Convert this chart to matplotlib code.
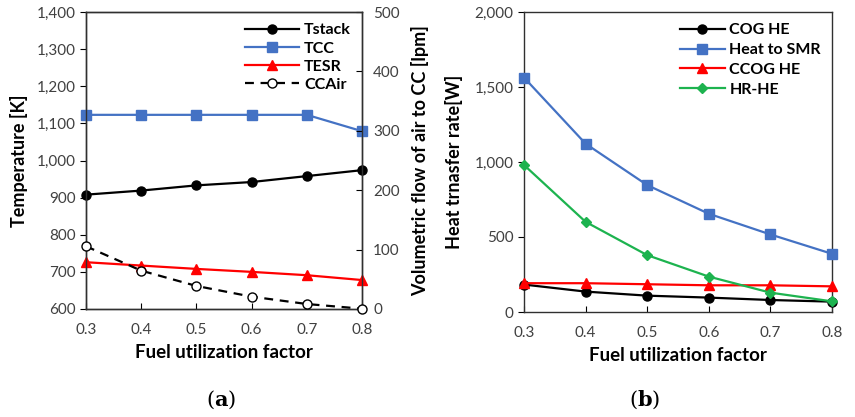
import numpy as np
import matplotlib
matplotlib.use("Agg")
import matplotlib.pyplot as plt
from matplotlib.ticker import FuncFormatter

plt.rcParams['font.family'] = ['Lato', 'DejaVu Sans']
plt.rcParams['mathtext.fontset'] = 'dejavuserif'

fu = [0.3, 0.4, 0.5, 0.6, 0.7, 0.8]

# (a) temperatures [K] and air flow [lpm]
t_stack = [908, 919, 933, 942, 958, 974]
t_cc = [1123, 1123, 1123, 1123, 1123, 1079]
t_esr = [726, 717, 708, 700, 691, 678]
cc_air = [105.6, 64.6, 38.8, 20.8, 8.4, 0.5]

# (b) heat transfer rates [W]
cog_he = [183, 136, 109, 96, 80, 69]
heat_smr = [1563, 1122, 846, 655, 517, 388]
ccog_he = [192, 192, 185, 178, 178, 171]
hr_he = [980, 601, 379, 236, 129, 71]

blue = '#4472C4'
red = '#FF0000'
green = '#1DB34F'
tickc = '#404040'

comma = FuncFormatter(lambda v, p: f'{int(v):,}')

fig = plt.figure(figsize=(8.55, 4.17), dpi=100)
W, H = 855, 417
ax1 = fig.add_axes([86 / W, 1 - 309 / H, 276 / W, 297 / H])
ax3 = fig.add_axes([524 / W, 1 - 312 / H, 308 / W, 300 / H])

lw = 1.6
ms = 6.5
kw = dict(lw=lw, ms=ms, clip_on=False, zorder=3)

l1, = ax1.plot(fu, t_stack, '-o', color='black', label='Tstack', **kw)
l2, = ax1.plot(fu, t_cc, '-s', color=blue, label='TCC', **kw)
l3, = ax1.plot(fu, t_esr, '-^', color=red, label='TESR', **kw)
ax1.set_ylim(600, 1400)
ax1.set_xlim(0.3, 0.8)
ax1.yaxis.set_major_formatter(comma)

ax2 = ax1.twinx()
l4, = ax2.plot(fu, cc_air, '--o', color='black', mfc='white', mec='black',
               mew=1, dashes=(4, 3), label='CCAir', **kw)
ax2.set_ylim(0, 500)
ax2.set_yticks([0, 100, 200, 300, 400, 500])

ax1.set_ylabel('Temperature [K]', fontsize=13, fontweight='bold', labelpad=6)
ax2.set_ylabel('Volumetric flow of air to CC [lpm]', fontsize=13,
               fontweight='bold', labelpad=8)
ax1.set_xlabel('Fuel utilization factor', fontsize=13.5, fontweight='bold',
               labelpad=5)
ax1.legend(handles=[l1, l2, l3, l4], loc='upper right', frameon=False,
           prop={'weight': 'bold', 'size': 11.5}, handlelength=3.4,
           handletextpad=0.3, labelspacing=0.25, borderaxespad=0.3)

ax3.plot(fu, cog_he, '-o', color='black', label='COG HE', **kw)
ax3.plot(fu, heat_smr, '-s', color=blue, label='Heat to SMR', **kw)
ax3.plot(fu, ccog_he, '-^', color=red, label='CCOG HE', **kw)
ax3.plot(fu, hr_he, '-D', color=green, lw=lw, ms=5, clip_on=False, zorder=3,
         label='HR-HE')
ax3.set_ylim(0, 2000)
ax3.set_xlim(0.3, 0.8)
ax3.set_yticks([0, 500, 1000, 1500, 2000])
ax3.yaxis.set_major_formatter(comma)
ax3.set_ylabel('Heat trnasfer rate[W]', fontsize=13, fontweight='bold',
               labelpad=8)
ax3.set_xlabel('Fuel utilization factor', fontsize=13.5, fontweight='bold',
               labelpad=5)
ax3.legend(loc='upper right', frameon=False,
           prop={'weight': 'bold', 'size': 11.5}, handlelength=2.8,
           handletextpad=0.3, labelspacing=0.35, borderaxespad=0.3)

for ax in (ax1, ax2, ax3):
    ax.set_xticks(fu)
    ax.tick_params(axis='x', direction='in', length=4, colors='black',
                   labelcolor=tickc, labelsize=11, pad=10)
    ax.tick_params(axis='y', length=4, labelcolor=tickc, labelsize=11)
    for s in ax.spines.values():
        s.set_color('#303030')
        s.set_linewidth(1.0)
ax2.tick_params(axis='y', direction='in', pad=8)
for ax in (ax1, ax3):
    ax.tick_params(axis='y', direction='out')

fig.text(221 / W, 1 - 400 / H, r'($\mathbf{a}$)', ha='center', va='center',
         fontsize=15, family='DejaVu Serif')
fig.text(645 / W, 1 - 400 / H, r'($\mathbf{b}$)', ha='center', va='center',
         fontsize=15, family='DejaVu Serif')

fig.savefig('out.png', dpi=100)
